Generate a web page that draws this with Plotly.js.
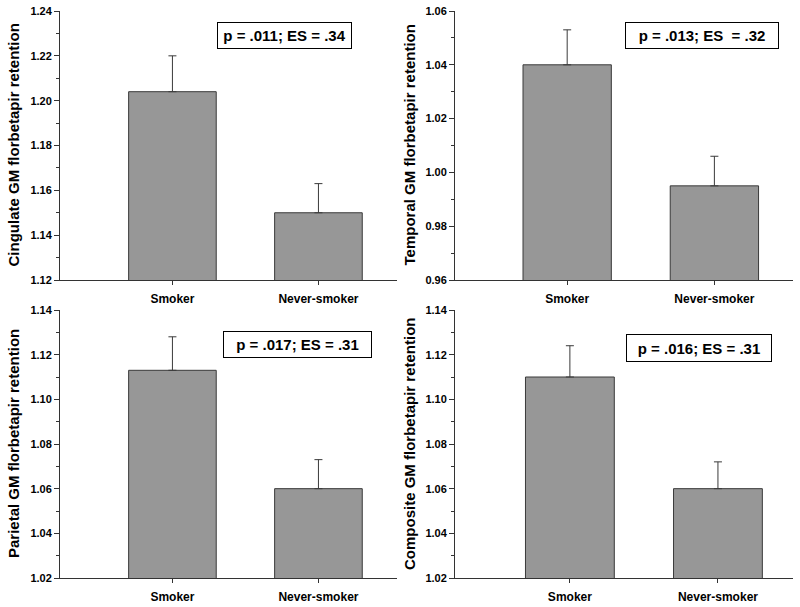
<!DOCTYPE html>
<html>
<head>
<meta charset="utf-8">
<script src="https://cdn.plot.ly/plotly-3.0.1.min.js"></script>
<style>html,body{margin:0;padding:0;background:#fff;}#chart{width:800px;height:607px;}</style>
</head>
<body>
<div id="chart"></div>
<script>
var categories = ['Smoker', 'Never-smoker'];

var cingulate = [1.204, 1.150];
var cingulateErr = [0.016, 0.013];

var temporal = [1.040, 0.995];
var temporalErr = [0.013, 0.011];

var parietal = [1.113, 1.060];
var parietalErr = [0.015, 0.013];

var composite = [1.110, 1.060];
var compositeErr = [0.014, 0.012];

var yTitles = [
  'Cingulate GM florbetapir retention',
  'Temporal GM florbetapir retention',
  'Parietal GM florbetapir retention',
  'Composite GM florbetapir retention'
];
var statLabels = [
  'p = .011; ES = .34',
  'p = .013; ES \u00a0= .32',
  'p = .017; ES = .31',
  'p = .016; ES = .31'
];

var FONT = 'Arial, "Liberation Sans", Helvetica, sans-serif';
var W = 800, H = 607;
var EDGE = '#3a3a3a';

function barTrace(vals, errs, idx) {
  var sfx = idx === 1 ? '' : String(idx);
  return {
    type: 'bar',
    x: categories,
    y: vals,
    width: 0.6,
    xaxis: 'x' + sfx,
    yaxis: 'y' + sfx,
    marker: { color: '#979797', line: { color: EDGE, width: 1 } },
    error_y: {
      type: 'data', symmetric: false, array: errs, arrayminus: [0, 0],
      color: EDGE, thickness: 1, width: 4
    },
    showlegend: false,
    hoverinfo: 'x+y'
  };
}

var data = [
  barTrace(cingulate, cingulateErr, 1),
  barTrace(temporal, temporalErr, 2),
  barTrace(parietal, parietalErr, 3),
  barTrace(composite, compositeErr, 4)
];

function xAxis(domain, range, anchor) {
  return {
    domain: domain, range: range, anchor: anchor, type: 'category',
    showline: true, linecolor: '#333333', linewidth: 1,
    ticks: 'outside', ticklen: 4, tickcolor: '#333333', tickwidth: 1,
    ticklabelstandoff: 4,
    showgrid: false, zeroline: false, fixedrange: true,
    tickfont: { family: FONT, size: 12, color: '#000', weight: 'bold' }
  };
}
function yAxis(domain, range, anchor) {
  return {
    domain: domain, range: range, anchor: anchor,
    dtick: 0.02, tick0: 0, tickformat: '.2f',
    showline: true, linecolor: '#333333', linewidth: 1,
    ticks: 'outside', ticklen: 5, tickcolor: '#333333', tickwidth: 1,
    minor: { dtick: 0.01, ticks: 'outside', ticklen: 3, tickcolor: '#333333', showgrid: false },
    showgrid: false, zeroline: false, fixedrange: true,
    tickfont: { family: FONT, size: 11, color: '#000', weight: 'bold' }
  };
}

var leftX = [60 / W, 397 / W];
var rightX = [455 / W, 793 / W];
var topY = [1 - 280 / H, 1 - 11 / H];
var botY = [1 - 578 / H, 1 - 310 / H];

var annotations = [];
var titlePos = [[13, 145.5], [409, 145.5], [13, 444], [409, 444]];
yTitles.forEach(function (t, i) {
  annotations.push({
    xref: 'paper', yref: 'paper', x: titlePos[i][0] / W, y: 1 - titlePos[i][1] / H,
    xanchor: 'center', yanchor: 'middle', text: t, textangle: -90, showarrow: false,
    font: { family: FONT, size: 15, color: '#000', weight: 'bold' }
  });
});
var boxPos = [[284.5, 35.5, 127, 19], [702, 35.5, 146, 19], [297.5, 344.5, 141, 19], [699, 348, 138, 20]];
statLabels.forEach(function (t, i) {
  annotations.push({
    xref: 'paper', yref: 'paper', x: boxPos[i][0] / W, y: 1 - boxPos[i][1] / H,
    xanchor: 'center', yanchor: 'middle', text: t, showarrow: false,
    width: boxPos[i][2], height: boxPos[i][3], align: 'center',
    bordercolor: '#000', borderwidth: 1, borderpad: 3, bgcolor: '#fff',
    font: { family: FONT, size: 15, color: '#000', weight: 'bold' }
  });
});

var layout = {
  width: W, height: H,
  margin: { l: 0, r: 0, t: 0, b: 0 },
  paper_bgcolor: '#fff', plot_bgcolor: '#fff',
  bargap: 0.4,
  xaxis: xAxis(leftX, [-0.77, 1.538], 'y'),
  yaxis: yAxis(topY, [1.12, 1.24], 'x'),
  xaxis2: xAxis(rightX, [-0.762, 1.534], 'y2'),
  yaxis2: yAxis(topY, [0.96, 1.06], 'x2'),
  xaxis3: xAxis(leftX, [-0.77, 1.538], 'y3'),
  yaxis3: yAxis(botY, [1.02, 1.14], 'x3'),
  xaxis4: xAxis(rightX, [-0.776, 1.507], 'y4'),
  yaxis4: yAxis(botY, [1.02, 1.14], 'x4'),
  annotations: annotations,
  font: { family: FONT }
};

Plotly.newPlot('chart', data, layout, { displayModeBar: false, staticPlot: true });
</script>
</body>
</html>
